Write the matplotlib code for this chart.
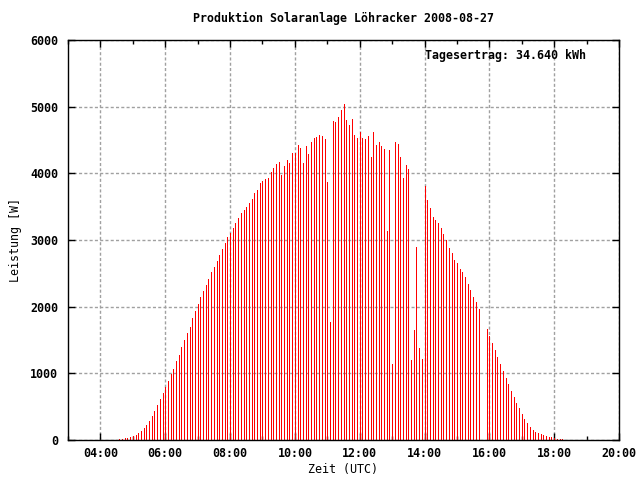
import numpy as np
import matplotlib
matplotlib.use("Agg")
import matplotlib.pyplot as plt
from matplotlib.ticker import MultipleLocator, FuncFormatter

# ---- data (W), 5-minute samples starting 04:35 UTC ----
start_time = "04:35"
interval_min = 5
leistung_vormittag = [15, 15, 30, 30, 45, 60, 75, 105, 135, 180, 225, 285, 360, 435, 525, 615,
                      705, 795, 885, 990, 1065, 1185, 1275, 1395, 1500, 1605, 1695, 1830, 1935,
                      2040, 2145, 2235, 2325, 2415,
                      2520, 2595, 2685, 2775, 2865, 2955, 3045, 3105, 3180, 3255, 3330, 3405,
                      3450, 3495, 3555, 3615, 3705, 3750, 3855, 3885, 3915, 3930, 4020, 4080,
                      4140, 4170, 3975, 4110, 4200, 4155, 4305, 4305, 4425]
leistung_mittag = [4380, 4155, 4410, 4290, 4470, 4530, 4545, 4575, 4560, 4515, 3870, 1770,
                   4785, 4770, 4845, 4950, 5040, 4800, 4725, 4815, 4575, 4530, 4620, 4530,
                   4515, 4560, 4245, 4620, 4425, 4470, 4410, 4365, 3135]
leistung_nachmittag = [4350, 1140, 4470, 4440, 4245, 3930, 4125, 4065, 1200, 1650, 2895, 1380,
                       1215, 3810, 3600, 3480, 3345, 3300, 3255, 3180, 3090, 3000, 2880, 2805,
                       2700, 2655, 2565, 2520, 2445, 2340, 2250, 2145, 2070, 1965, 0, 0,
                       1665, 1560, 1455, 1350, 1245, 1140, 1035, 930, 840, 735, 645, 555, 480,
                       390, 315, 255, 195, 150, 120, 105, 90, 75, 60, 45, 45, 30, 15, 15, 15]
x_tick_hours = [4, 6, 8, 10, 12, 14, 16, 18, 20]
y_ticks = [0, 1000, 2000, 3000, 4000, 5000, 6000]

title = "Produktion Solaranlage Löhracker 2008-08-27"
ertrag_text = "Tagesertrag: 34.640 kWh"

values = np.array(leistung_vormittag + leistung_mittag + leistung_nachmittag, dtype=float)
h0, m0 = map(int, start_time.split(":"))
times = h0 + m0 / 60.0 + np.arange(len(values)) * interval_min / 60.0

plt.rcParams["font.family"] = "DejaVu Sans Mono"
plt.rcParams["font.weight"] = "bold"
plt.rcParams["font.size"] = 8.4

fig = plt.figure(figsize=(6.4, 4.8), dpi=100)
ax = fig.add_axes([68 / 640, 1 - 440 / 480, (619 - 68) / 640, 400 / 480])

ax.vlines(times, 0, values, colors="#ff0000", linewidth=0.72, antialiased=False, zorder=3)

ax.set_xlim(3, 20)
ax.set_ylim(0, 6000)
ax.set_xticks(x_tick_hours)
ax.xaxis.set_major_formatter(FuncFormatter(lambda v, p: "%02d:00" % int(round(v))))
ax.xaxis.set_minor_locator(MultipleLocator(1))
ax.set_yticks(y_ticks)
ax.set_yticklabels([str(t) for t in y_ticks])

ax.grid(True, which="major", color="#a0a0a0", linestyle=(0, (2.2, 1.6)), linewidth=1.0, zorder=1)
ax.tick_params(which="both", direction="in", top=True, right=True, colors="black")
ax.tick_params(which="major", length=5, width=1, pad=7)
ax.tick_params(which="minor", length=3, width=1)
ax.tick_params(axis="x", which="major", pad=5)
for s in ax.spines.values():
    s.set_linewidth(1.0)
    s.set_color("black")
    s.set_zorder(4)

ax.set_xlabel("Zeit (UTC)", labelpad=2)
ax.set_ylabel("Leistung [W]", labelpad=6)
fig.text(343.5 / 640, 1 - 18 / 480, title, ha="center", va="center")
ax.text((425 - 68) / 551, (440 - 56) / 400, ertrag_text, transform=ax.transAxes,
        ha="left", va="center")

fig.savefig("out.png", dpi=100)
